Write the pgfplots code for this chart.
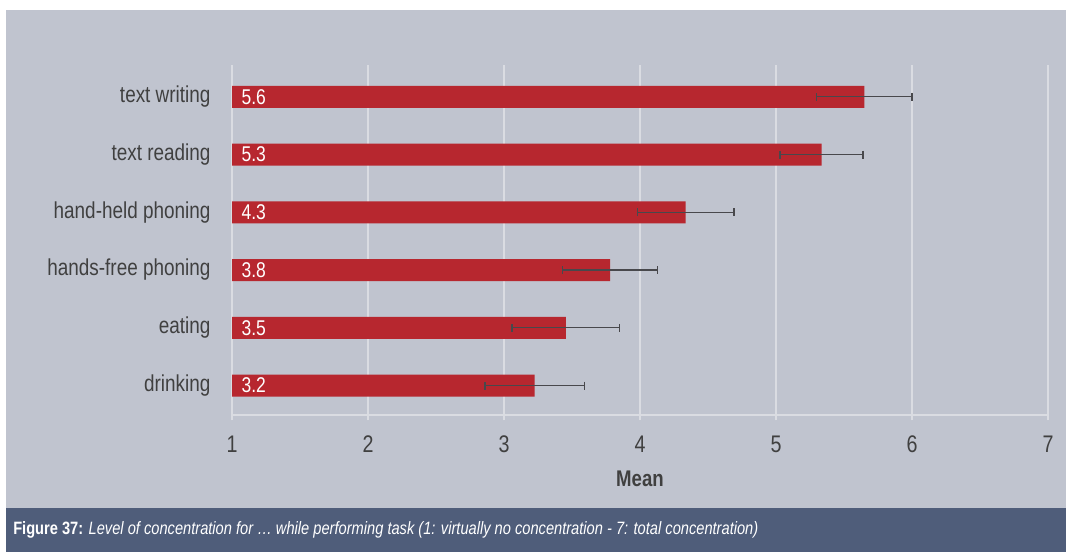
\documentclass[border=0pt]{standalone}
\usepackage{fontspec}
\setmainfont{Liberation Sans}[FakeStretch=0.82]
\usepackage{pgfplots}
\usepackage{pgfplotstable}
\pgfplotsset{compat=1.18}
\definecolor{bggrey}{RGB}{192,196,207}
\definecolor{band}{RGB}{79,93,122}
\definecolor{barred}{RGB}{183,39,47}
\definecolor{gridcol}{RGB}{218,220,226}
\definecolor{txt}{RGB}{64,64,64}
\definecolor{errcol}{RGB}{72,72,76}
\pgfplotstableread{
i m e l b
0 3.225 0.365 3.2 1
1 3.455 0.395 3.5 1
2 3.78 0.35 3.8 1
3 4.335 0.355 4.3 1
4 5.335 0.305 5.3 1
5 5.65 0.35 5.6 1
}\datatab
\begin{document}
\begin{tikzpicture}
\useasboundingbox (0pt,0pt) rectangle (799.5pt,414pt);
\fill[white] (0pt,0pt) rectangle (799.5pt,414pt);
\fill[bggrey] (4.5pt,33pt) rectangle (799.5pt,406.5pt);
\fill[band] (4.5pt,0pt) rectangle (799.5pt,33pt);
\node[anchor=west, text=white, inner sep=0pt, font=\fontsize{13.4}{15}\selectfont] at (9.75pt,16.5pt) {\textbf{Figure 37:} \textit{Level of concentration for … while performing task (1: virtually no concentration - 7: total concentration)}};
\begin{axis}[
  at={(174pt,102.75pt)}, anchor=south west,
  scale only axis, width=612pt, height=262.5pt,
  xmin=1, xmax=7, ymin=-0.51, ymax=5.55,
  axis lines*=left,
  x axis line style={draw=gridcol, line width=0.9pt},
  y axis line style={draw=none},
  xtick={1,2,3,4,5,6,7},
  ytick={0,1,2,3,4,5},
  yticklabels={drinking,eating,hands-free phoning,hand-held phoning,text reading,text writing},
  xmajorgrids,
  grid style={draw=gridcol, line width=0.9pt},
  tick align=outside,
  major tick length=4pt,
  x tick style={draw=gridcol, line width=0.9pt},
  y tick style={draw=none},
  /pgf/number format/assume math mode=true,
  xticklabel style={font=\fontsize{18}{20}\selectfont, text=txt, yshift=-8pt},
  yticklabel style={font=\fontsize{17.3}{20}\selectfont, text=txt, anchor=east, inner sep=0pt, xshift=-12pt},
  xlabel={\textbf{Mean}},
  xlabel style={font=\fontsize{17}{20}\selectfont, text=txt, at={(axis description cs:0.5,0)}, anchor=center, yshift=-48.2pt},
]
\addplot[xbar, bar width=16.5pt, fill=barred, draw=none]
  table[x=m, y=i] {\datatab};
\addplot[only marks, mark=*, mark size=0pt, mark options={draw=none, fill=none}, color=errcol, line width=1pt,
  error bars/.cd, x dir=both, x explicit, error mark=|,
  error bar style={line width=1pt, color=errcol},
  error mark options={line width=1pt, mark size=3pt, draw=errcol, color=errcol}]
  table[x=m, y=i, x error=e] {\datatab};
\addplot[draw=none, mark=none, nodes near coords, point meta=explicit symbolic,
  nodes near coords style={anchor=west, inner sep=0pt, xshift=7pt, text=white, font=\fontsize{16}{18}\selectfont}]
  table[x=b, y=i, meta=l] {\datatab};
\end{axis}
\end{tikzpicture}
\end{document}
